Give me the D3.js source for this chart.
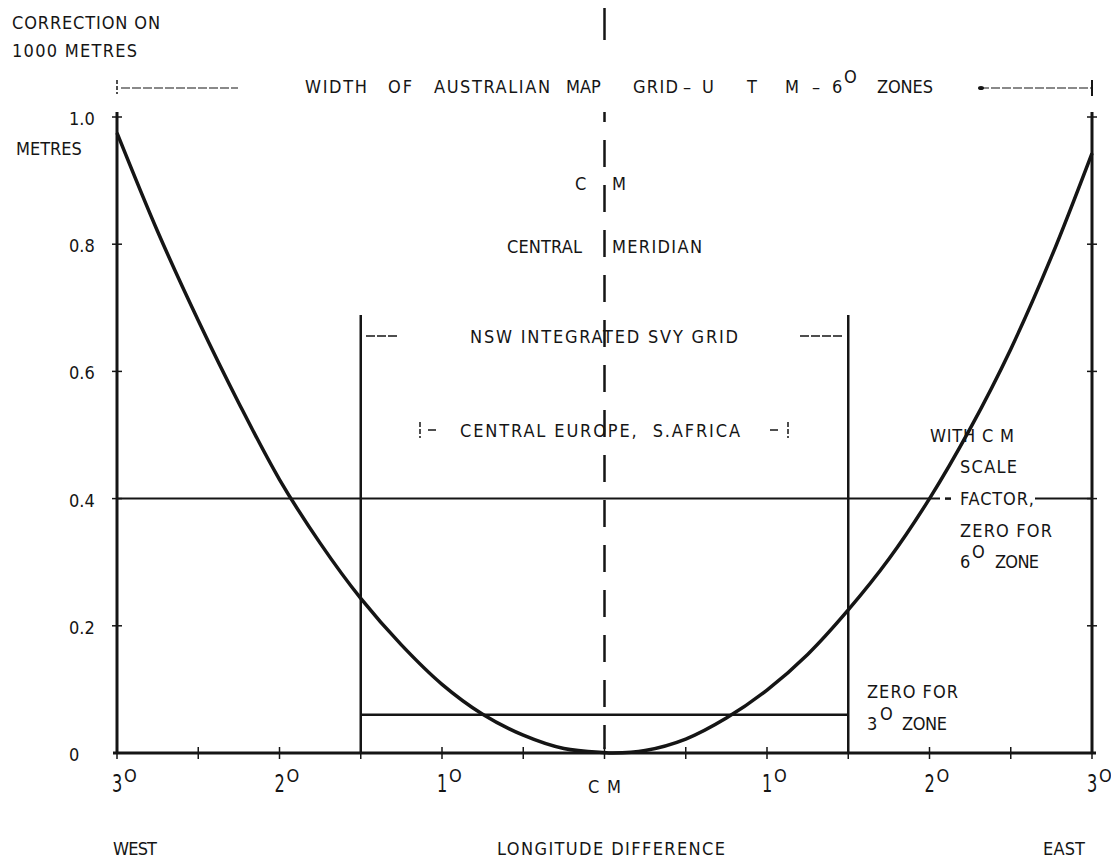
<!DOCTYPE html>
<html>
<head>
<meta charset="utf-8">
<script src="https://cdn.jsdelivr.net/npm/d3@7"></script>
<style>
  html, body { margin: 0; padding: 0; background: #fff; }
  svg text { font-family: "DejaVu Sans Condensed", "DejaVu Sans", sans-serif; font-size: 18px; fill: #151515; white-space: pre; }
</style>
</head>
<body>
<svg id="chart" width="1111" height="859"></svg>
<script>
// Longitude difference from the central meridian (degrees, west negative)
const longitude = [-3, -2.75, -2.5, -2.25, -2, -1.75, -1.5, -1.25, -1, -0.75, -0.5, -0.25, 0, 0.05,
                   0.25, 0.5, 0.75, 1, 1.25, 1.5, 1.75, 2, 2.25, 2.5, 2.75, 3];
// Correction on 1000 metres (metres)
const correction = [0.975, 0.82, 0.68, 0.55, 0.43, 0.33, 0.243, 0.17, 0.108, 0.061, 0.028, 0.007, 0.0005, 0,
                    0.004, 0.022, 0.055, 0.099, 0.155, 0.225, 0.305, 0.40, 0.51, 0.635, 0.78, 0.943];

const yTickValues = [0, 0.2, 0.4, 0.6, 0.8, 1.0];
const yTickLabels = ["0", "0.2", "0.4", "0.6", "0.8", "1.0"];
const xMinorTicks = [-3, -2.5, -2, -1.5, -1, -0.5, 0, 0.5, 1, 1.5, 2, 2.5, 3];
const xTickValues = [-3, -2, -1, 1, 2, 3];
const xTickDigits = ["3", "2", "1", "1", "2", "3"];

const cmScaleFactorLevel = 0.4;   // C M scale factor zero for 6° zone
const threeDegZoneLevel = 0.06;   // zero for 3° zone
const nswLimit = 1.5;             // NSW integrated survey grid half-width (deg)

const svg = d3.select("#chart");
const x = d3.scaleLinear().domain([-3, 3]).range([117, 1092]);
const y = d3.scaleLinear().domain([0, 1]).range([753, 117]);
const ink = "#151515";

// text helper: optional fitted length (letter spacing only), size, anchor
function label(str, px, py, o = {}) {
  const t = svg.append("text").attr("x", px).attr("y", py).text(str);
  if (o.len) t.attr("textLength", o.len).attr("lengthAdjust", "spacing");
  if (o.size) t.attr("font-size", o.size);
  if (o.anchor) t.attr("text-anchor", o.anchor);
  return t;
}
function degreeMark(px, py, size = 11) {
  return label("O", px, py, { size: size });
}
function hline(x1, x2, yy, w, dash) {
  const l = svg.append("line").attr("x1", x1).attr("x2", x2).attr("y1", yy).attr("y2", yy)
    .attr("stroke", ink).attr("stroke-width", w);
  if (dash) l.attr("stroke-dasharray", dash);
  return l;
}
function vline(xx, y1, y2, w, dash) {
  const l = svg.append("line").attr("x1", xx).attr("x2", xx).attr("y1", y1).attr("y2", y2)
    .attr("stroke", ink).attr("stroke-width", w);
  if (dash) l.attr("stroke-dasharray", dash);
  return l;
}

// ---- frame: side verticals and base line
vline(x(-3), y(1) - 5, y(0), 3);
vline(x(3), y(1) - 5, y(0), 3);
hline(x(-3) - 4, x(3) + 4, y(0), 3);

// y ticks on both sides
[-3, 3].forEach(s => {
  svg.selectAll(null).data(yTickValues.filter(v => v > 0)).enter().append("line")
    .attr("x1", x(s) - 5).attr("x2", x(s) + 5)
    .attr("y1", d => y(d)).attr("y2", d => y(d))
    .attr("stroke", ink).attr("stroke-width", 1.5);
});
// y labels
svg.selectAll(null).data(yTickValues).enter().append("text")
  .attr("x", 69).attr("y", d => y(d) + 8).attr("font-size", 20)
  .text((d, i) => yTickLabels[i]);

// x ticks every half degree
svg.selectAll(null).data(xMinorTicks).enter().append("line")
  .attr("x1", d => x(d)).attr("x2", d => x(d))
  .attr("y1", y(0) - 6).attr("y2", y(0) + 6)
  .attr("stroke", ink).attr("stroke-width", 1.5);

// x labels: tall digits with a raised degree mark
xTickValues.forEach((v, i) => {
  svg.append("text")
    .attr("transform", `translate(${x(v) - 5},792) scale(1,1.4)`)
    .attr("font-size", 19)
    .text(xTickDigits[i]);
  degreeMark(x(v) + 7, 782, 11);
});
label("C M", x(0), 793, { anchor: "middle", len: 33 });

// ---- central meridian, dashed
vline(x(0), 8, 40, 2.5);
vline(x(0), 112, y(0) - 4, 2.5, "27,18").attr("stroke-dashoffset", 17);

// ---- 6° zone scale-factor line at 0.4
hline(x(-3), 940, y(cmScaleFactorLevel), 2);
hline(945, 951, y(cmScaleFactorLevel), 2.5);
hline(1035, x(3), y(cmScaleFactorLevel), 2);

// ---- NSW grid verticals and 3° zone level
[-nswLimit, nswLimit].forEach(v => vline(x(v), 315, y(0), 2.5));
hline(x(-nswLimit), x(nswLimit), y(threeDegZoneLevel), 2.5);

// ---- correction curve
const pts = longitude.map((l, i) => [l, correction[i]]);
svg.append("path").datum(pts)
  .attr("d", d3.line().x(d => x(d[0])).y(d => y(d[1])).curve(d3.curveCatmullRom.alpha(0.5)))
  .attr("fill", "none").attr("stroke", ink).attr("stroke-width", 3.5);

// ---- width of Australian map grid bar
vline(x(-3), 80, 94, 1.5, "4,2");
hline(x(-3) + 4, 238, 88, 1.2, "9,2");
hline(980, x(3), 88, 1.2, "9,2");
svg.append("ellipse").attr("cx", 981).attr("cy", 88).attr("rx", 3).attr("ry", 2).attr("fill", ink);
vline(x(3), 80, 96, 2);

label("WIDTH", 305, 93, { len: 62 });
label("OF", 388, 93, { len: 24 });
label("AUSTRALIAN", 434, 93, { len: 116 });
label("MAP", 566, 93);
label("GRID", 633, 93, { len: 45 });
label("\u2013", 683, 93);
label("U", 702, 93);
label("T", 747, 93);
label("M", 785, 93);
label("\u2013", 812, 93);
label("6", 832, 93);
degreeMark(844, 83, 11);
label("ZONES", 877, 93, { len: 56 });

// ---- axis titles
label("CORRECTION ON", 12, 29, { len: 148 });
label("1000 METRES", 12, 57, { len: 125 });
label("METRES", 16, 155);
label("WEST", 113, 855, { len: 44 });
label("LONGITUDE DIFFERENCE", 497, 855, { len: 228 });
label("EAST", 1043, 855, { len: 42 });

// ---- central meridian labels
label("C", 575, 190);
label("M", 612, 190);
label("CENTRAL", 507, 253, { len: 75 });
label("MERIDIAN", 612, 253, { len: 90 });

// ---- right-hand notes
label("WITH C M", 930, 442, { len: 84 });
label("SCALE", 960, 473, { len: 57 });
label("FACTOR,", 960, 505, { len: 74 });
label("ZERO FOR", 960, 537, { len: 92 });
label("6", 960, 568);
degreeMark(972, 558, 11);
label("ZONE", 995, 568, { len: 44 });

label("ZERO FOR", 867, 698, { len: 91 });
label("3", 867, 730);
degreeMark(880, 720, 11);
label("ZONE", 902, 730, { len: 45 });

// ---- NSW and Central Europe bands
hline(366, 398, 336, 1.5, "9,2");
hline(800, 843, 336, 1.5, "9,2");
label("NSW INTEGRATED SVY GRID", 470, 343, { len: 268 });

vline(420, 422, 438, 1.5, "5,2");
hline(428, 436, 430, 1.5);
label("CENTRAL EUROPE,  S.AFRICA", 460, 437, { len: 280 });
hline(770, 778, 430, 1.5);
vline(788, 422, 438, 1.5, "5,2");
</script>
</body>
</html>
